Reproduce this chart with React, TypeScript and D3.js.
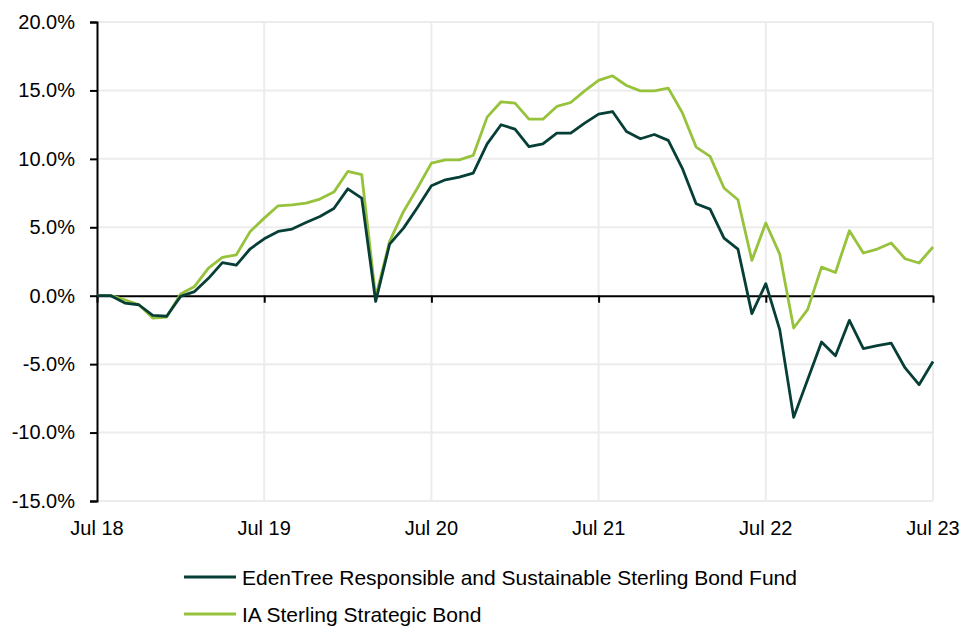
import { useEffect, useRef } from 'react';
import * as d3 from 'd3';

// Monthly cumulative performance (%), Jul 2018 - Jul 2023
const months = d3.range(61);
const yearTicks = [0, 12, 24, 36, 48, 60];
const yearLabels = ['Jul 18', 'Jul 19', 'Jul 20', 'Jul 21', 'Jul 22', 'Jul 23'];
const yTicks = [-15, -10, -5, 0, 5, 10, 15, 20];

const edenTree = [
  0, 0, -0.54, -0.66, -1.44, -1.5, -0.05, 0.3, 1.27, 2.42, 2.23, 3.43,
  4.16, 4.7, 4.87, 5.35, 5.79, 6.37, 7.81, 7.13, -0.42, 3.77, 4.94, 6.45,
  8.03, 8.47, 8.67, 8.96, 11.1, 12.49, 12.17, 10.9, 11.1, 11.88, 11.88, 12.61,
  13.27, 13.46, 12.0, 11.47, 11.78, 11.35, 9.33, 6.72, 6.33, 4.21, 3.41, -1.31,
  0.88, -2.48, -8.89, -6.14, -3.38, -4.38, -1.8, -3.87, -3.65, -3.46, -5.28, -6.5,
  -4.8,
];
const iaSterling = [
  0, 0, -0.3, -0.66, -1.63, -1.56, 0.13, 0.68, 2.02, 2.8, 2.99, 4.7,
  5.67, 6.57, 6.64, 6.77, 7.06, 7.57, 9.08, 8.84, -0.1, 3.97, 6.16, 7.87,
  9.69, 9.93, 9.93, 10.25, 13.05, 14.17, 14.07, 12.9, 12.9, 13.83, 14.12, 14.97,
  15.73, 16.07, 15.36, 14.97, 14.97, 15.17, 13.39, 10.86, 10.18, 7.87, 7.01, 2.58,
  5.31, 3.04, -2.36, -1.02, 2.09, 1.7, 4.75, 3.12, 3.41, 3.85, 2.7, 2.39,
  3.56,
];

const seriesNames = ['EdenTree Responsible and Sustainable Sterling Bond Fund', 'IA Sterling Strategic Bond'];
const seriesColors = ['#073f37', '#97c23b'];

const App = () => {
  const svgRef = useRef<SVGSVGElement | null>(null);

  useEffect(() => {
    const width = 963;
    const height = 626;
    const left = 97;
    const right = 933;
    const top = 22;
    const bottom = 501;
    const font = "'Liberation Sans', Arial, sans-serif";

    const x = d3.scaleLinear().domain([0, 60]).range([left, right]);
    const y = d3.scaleLinear().domain([-15, 20]).range([bottom, top]);

    const svg = d3.select(svgRef.current)
      .attr('width', width)
      .attr('height', height)
      .attr('viewBox', [0, 0, width, height])
      .style('font-family', font);
    svg.selectAll('*').remove();

    // gridlines
    svg.append('g')
      .selectAll('line')
      .data(yTicks.filter(t => t !== 0))
      .join('line')
      .attr('x1', left).attr('x2', right)
      .attr('y1', d => y(d)).attr('y2', d => y(d))
      .attr('stroke', '#ececec').attr('stroke-width', 2);
    svg.append('g')
      .selectAll('line')
      .data(yearTicks.slice(1))
      .join('line')
      .attr('x1', d => x(d)).attr('x2', d => x(d))
      .attr('y1', top).attr('y2', bottom)
      .attr('stroke', '#ececec').attr('stroke-width', 2);

    // y axis
    svg.append('g')
      .attr('transform', `translate(${left},0)`)
      .call(d3.axisLeft(y).tickValues(yTicks).tickSize(7).tickPadding(15).tickFormat(d => `${(+d).toFixed(1)}%`))
      .call(g => g.select('.domain').attr('stroke', '#000').attr('stroke-width', 2))
      .call(g => g.selectAll('.tick line').attr('stroke', '#000').attr('stroke-width', 2))
      .call(g => g.selectAll('text').attr('fill', '#000').style('font-size', '20px').style('font-family', font));

    // x axis at zero
    svg.append('g')
      .attr('transform', `translate(0,${y(0)})`)
      .call(d3.axisBottom(x).tickValues(yearTicks).tickSize(7).tickSizeOuter(0).tickFormat(() => ''))
      .call(g => g.select('.domain').attr('stroke', '#000').attr('stroke-width', 2))
      .call(g => g.selectAll('.tick line').attr('stroke', '#000').attr('stroke-width', 2));

    // x labels below plot
    svg.append('g')
      .selectAll('text')
      .data(yearTicks)
      .join('text')
      .attr('x', d => x(d))
      .attr('y', bottom + 34)
      .attr('text-anchor', 'middle')
      .style('font-size', '20px')
      .text((d, i) => yearLabels[i]);

    const line = d3.line<number>()
      .x((d, i) => x(months[i]))
      .y(d => y(d));

    [iaSterling, edenTree].forEach((s, k) => {
      svg.append('path')
        .datum(s)
        .attr('d', line)
        .attr('fill', 'none')
        .attr('stroke', seriesColors[1 - k])
        .attr('stroke-width', 2.8)
        .attr('stroke-linejoin', 'round');
    });

    // legend
    const legend = svg.append('g');
    seriesNames.forEach((name, i) => {
      const ly = 577 + i * 37;
      legend.append('line')
        .attr('x1', 184).attr('x2', 236)
        .attr('y1', ly).attr('y2', ly)
        .attr('stroke', seriesColors[i]).attr('stroke-width', 3);
      legend.append('text')
        .attr('x', 242).attr('y', ly + 8)
        .style('font-size', '21px')
        .attr('fill', '#000')
        .text(name);
    });
  }, []);

  return (
    <div>
      <svg ref={svgRef} style={{ position: 'absolute', left: 0, top: 0 }}></svg>
    </div>
  );
};

export default App;
